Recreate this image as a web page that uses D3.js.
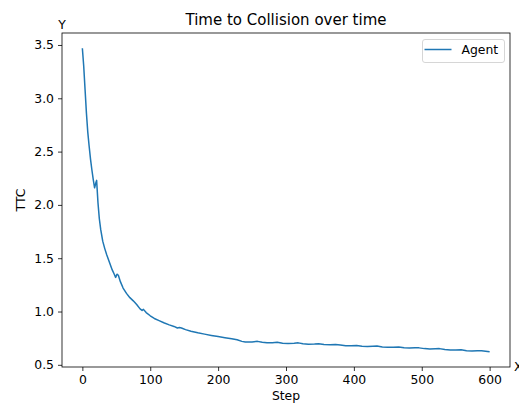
<!DOCTYPE html>
<html lang="en">
<head>
  <meta charset="UTF-8">
  <title>Time to Collision over time</title>
  <script src="https://d3js.org/d3.v7.min.js"></script>
  <style>
    html, body { margin: 0; padding: 0; background: #fff; }
    svg text { font-family: "DejaVu Sans", sans-serif; fill: #000; }
    .axis path, .axis line { stroke: #000; stroke-width: 0.8px; }
    .line { fill: none; stroke: #1f77b4; stroke-width: 1.5px; }
  </style>
</head>
<body>
  <div id="container"></div>
  <script>
    const width = 519;
    const height = 403;
    const margin = {top: 33, right: 9, bottom: 36, left: 62};

    // Data
    const steps = [0, 2, 4, 6, 8, 10, 12, 14, 16, 18, 20, 21, 23, 25, 27, 30, 33, 36, 40, 44, 47, 49, 51, 53, 56, 60, 65, 70, 75, 80, 85, 88, 90, 94, 100,
      106, 113, 120, 128, 135, 140, 143, 146, 152, 160, 170, 180, 190, 200, 210, 220, 228, 235, 240, 250, 258, 265, 272, 280, 287, 295,
      303, 312, 318, 325, 333, 342, 348, 356, 365, 373, 380, 388, 396, 404, 412, 420, 428, 434, 442, 450, 458, 466, 474, 482, 490, 496,
      504, 512, 520, 526, 534, 542, 550, 558, 566, 574, 582, 588, 594, 600];
    const ttc = [3.47, 3.30, 3.08, 2.86, 2.68, 2.55, 2.43, 2.33, 2.24, 2.16, 2.21, 2.23, 2.02, 1.87, 1.77, 1.66, 1.59, 1.53, 1.46, 1.39, 1.35, 1.32, 1.35, 1.34, 1.28, 1.22, 1.17, 1.13, 1.10, 1.065, 1.025, 1.01, 1.02, 0.99, 0.96,
      0.935, 0.915, 0.895, 0.875, 0.86, 0.845, 0.85, 0.845, 0.83, 0.815, 0.80, 0.788, 0.776, 0.765, 0.755, 0.745, 0.735, 0.72, 0.715, 0.715, 0.72, 0.712, 0.706, 0.708, 0.712, 0.703,
      0.70, 0.703, 0.706, 0.697, 0.693, 0.695, 0.698, 0.69, 0.688, 0.691, 0.686, 0.679, 0.679, 0.682, 0.675, 0.672, 0.674, 0.676, 0.668, 0.664, 0.666, 0.668, 0.66, 0.657, 0.66, 0.659,
      0.652, 0.648, 0.65, 0.652, 0.643, 0.638, 0.639, 0.641, 0.633, 0.63, 0.631, 0.632, 0.627, 0.622];
    const xTicks = [0, 100, 200, 300, 400, 500, 600];
    const yTicks = [0.5, 1.0, 1.5, 2.0, 2.5, 3.0, 3.5];
    const seriesName = 'Agent';

    const fs = 12.4;
    const innerW = width - margin.left - margin.right;
    const innerH = height - margin.top - margin.bottom;

    const svg = d3.select('#container').append('svg')
      .attr('width', width).attr('height', height);
    const g = svg.append('g').attr('transform', `translate(${margin.left},${margin.top})`);

    // matplotlib-style 5% margins
    const xPad = (d3.max(steps) - d3.min(steps)) * 0.05;
    const yPad = (d3.max(ttc) - d3.min(ttc)) * 0.05;
    const xScale = d3.scaleLinear().domain([d3.min(steps) - xPad, d3.max(steps) + xPad]).range([0, innerW]);
    const yScale = d3.scaleLinear().domain([d3.min(ttc) - yPad, d3.max(ttc) + yPad]).range([innerH, 0]);

    const xAxis = d3.axisBottom(xScale).tickValues(xTicks).tickSize(4).tickPadding(4).tickFormat(d3.format('d'));
    const yAxis = d3.axisLeft(yScale).tickValues(yTicks).tickSize(4).tickPadding(4).tickFormat(d3.format('.1f'));

    g.append('g').attr('class', 'axis').attr('transform', `translate(0,${innerH})`).call(xAxis)
      .call(s => s.select('.domain').remove())
      .selectAll('text').attr('font-size', fs).style('fill', '#000');
    g.append('g').attr('class', 'axis').call(yAxis)
      .call(s => s.select('.domain').remove())
      .selectAll('text').attr('font-size', fs).style('fill', '#000');

    // Frame
    g.append('rect').attr('width', innerW).attr('height', innerH)
      .attr('fill', 'none').attr('stroke', '#000').attr('stroke-width', 0.8);

    const line = d3.line().x((d, i) => xScale(steps[i])).y(d => yScale(d));
    g.append('path').datum(ttc).attr('class', 'line').attr('d', line)
      .attr('stroke-linejoin', 'round');

    // Title and labels
    svg.append('text').attr('x', margin.left + innerW / 2).attr('y', 25)
      .attr('text-anchor', 'middle').attr('font-size', 15).text('Time to Collision over time');
    svg.append('text').attr('x', margin.left + innerW / 2).attr('y', 400)
      .attr('text-anchor', 'middle').attr('font-size', fs).text('Step');
    svg.append('text').attr('transform', `translate(25,${margin.top + innerH / 2}) rotate(-90)`)
      .attr('text-anchor', 'middle').attr('font-size', fs).text('TTC');
    svg.append('text').attr('x', margin.left).attr('y', 29)
      .attr('text-anchor', 'middle').attr('font-size', fs).text('Y');
    svg.append('text').attr('x', margin.left + innerW + 4).attr('y', margin.top + innerH + 4)
      .attr('font-size', fs).text('X');

    // Legend
    const lg = g.append('g').attr('transform', `translate(${innerW - 87.5},6.5)`);
    lg.append('rect').attr('width', 82).attr('height', 23).attr('rx', 2.5)
      .attr('fill', '#fff').attr('fill-opacity', 0.8).attr('stroke', '#ccc').attr('stroke-width', 0.8);
    lg.append('line').attr('x1', 2).attr('x2', 29).attr('y1', 10).attr('y2', 10)
      .attr('stroke', '#1f77b4').attr('stroke-width', 1.5);
    lg.append('text').attr('x', 39).attr('y', 14.5).attr('font-size', fs).text(seriesName);
  </script>
</body>
</html>
